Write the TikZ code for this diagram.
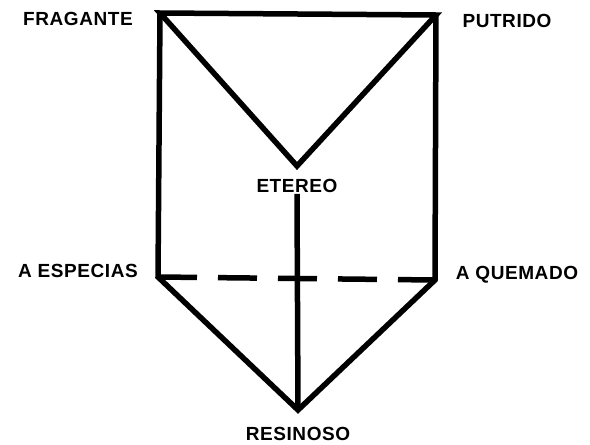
\documentclass[tikz,border=0pt]{standalone}
\usepackage{fontspec}
\setmainfont{Liberation Sans}
\newfontfamily\lblfont[LetterSpace=3]{Liberation Sans}
\usetikzlibrary{calc}

\begin{document}
\begin{tikzpicture}[x=1pt,y=-1pt]
    \tikzset{
      edge/.style={line width=5.5pt},
      lbl/.style={font=\lblfont\bfseries\fontsize{19}{22}\selectfont, inner sep=1pt}
    }
    \useasboundingbox (0,0) rectangle (590,445);
    \coordinate (fr) at (160, 13);
    \coordinate (pu) at (436, 15);
    \coordinate (et) at (297, 166);
    \coordinate (ae) at (158, 277);
    \coordinate (aq) at (435, 280);
    \coordinate (re) at (298, 410);
    \node[lbl] (frlbl) at (78, 19) {FRAGANTE};
    \node[lbl] (pulbl) at (507, 21) {PUTRIDO};
    \node[lbl] (etlbl) at (297, 186) {ETEREO};
    \node[lbl] (aelbl) at (78, 271) {A ESPECIAS};
    \node[lbl] (aqlbl) at (517, 275) {A QUEMADO};
    \node[lbl] (relbl) at (298, 434) {RESINOSO};
    \draw[edge] (fr) -- (pu) -- (et) -- cycle;
    \draw[edge] (fr) -- (ae) -- (re) -- (aq) -- (pu);
    \draw[edge] (etlbl.south) -- (re);
    \draw[edge, dash pattern=on 39pt off 21pt] (ae) -- (aq);
\end{tikzpicture}
\end{document}
